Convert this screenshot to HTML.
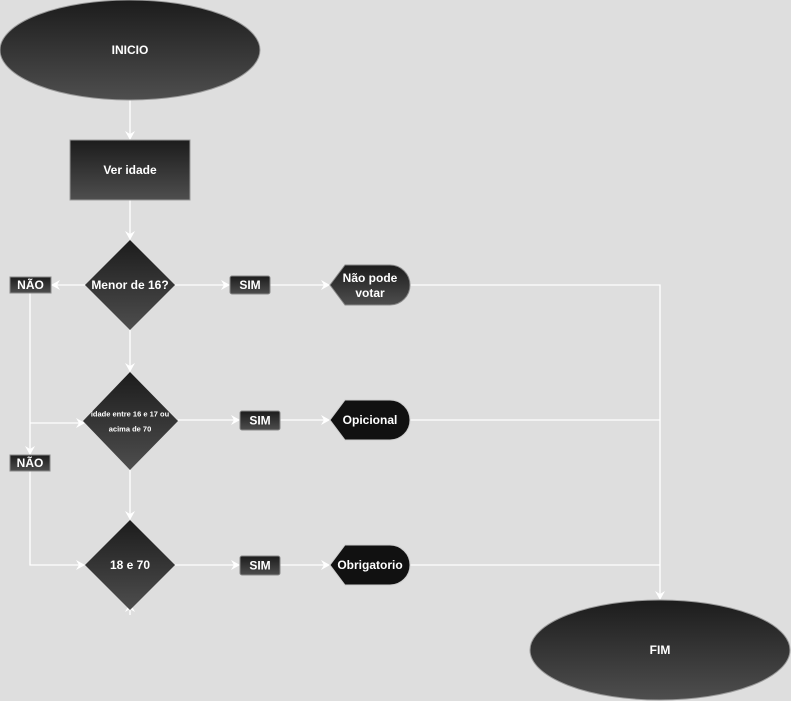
<!DOCTYPE html>
<html><head><meta charset="utf-8"><style>
html,body{margin:0;padding:0;background:#dedede;}
svg{display:block;}
text{font-family:"Liberation Sans",Arial,sans-serif;fill:#fff;font-weight:bold;text-anchor:middle;dominant-baseline:central;}
</style></head><body>
<svg width="791" height="701" viewBox="0 0 791 701" xmlns="http://www.w3.org/2000/svg">
<defs>
<linearGradient id="g" x1="0" y1="0" x2="0" y2="1"><stop offset="0" stop-color="#1c1c1c"/><stop offset="1" stop-color="#4e4e4e"/></linearGradient>
<marker id="a" markerWidth="10" markerHeight="10" refX="8" refY="5" orient="auto" markerUnits="userSpaceOnUse"><path d="M0,0 L9,5 L0,10 L3,5 Z" fill="#fff"/></marker>
</defs>
<rect width="791" height="701" fill="#dedede"/>
<g stroke="#fff" stroke-width="1.3" fill="none">
<line x1="130" y1="100" x2="130" y2="139" marker-end="url(#a)"/>
<line x1="130" y1="200" x2="130" y2="239" marker-end="url(#a)"/>
<line x1="85" y1="285" x2="52" y2="285" marker-end="url(#a)"/>
<line x1="175" y1="285" x2="229" y2="285" marker-end="url(#a)"/>
<line x1="270" y1="285" x2="329" y2="285" marker-end="url(#a)"/>
<line x1="130" y1="330" x2="130" y2="371" marker-end="url(#a)"/>
<line x1="30" y1="293" x2="30" y2="454" marker-end="url(#a)"/>
<line x1="30" y1="423" x2="84" y2="423" marker-end="url(#a)"/>
<line x1="178" y1="420" x2="239" y2="420" marker-end="url(#a)"/>
<line x1="280" y1="420" x2="329" y2="420" marker-end="url(#a)"/>
<line x1="130" y1="470" x2="130" y2="519" marker-end="url(#a)"/>
<polyline points="30,471 30,565 84,565" marker-end="url(#a)"/>
<line x1="175" y1="565" x2="239" y2="565" marker-end="url(#a)"/>
<line x1="280" y1="565" x2="329" y2="565" marker-end="url(#a)"/>
<line x1="130" y1="615" x2="130" y2="604" marker-end="url(#a)"/>
<polyline points="410,285 660,285 660,599" marker-end="url(#a)"/>
<line x1="410" y1="420" x2="660" y2="420"/>
<line x1="410" y1="565" x2="660" y2="565"/>
</g>
<ellipse cx="130" cy="50" rx="130" ry="50" fill="url(#g)" stroke="#999" stroke-width="1"/>
<text x="130" y="50" font-size="12">INICIO</text>
<rect x="70" y="140" width="120" height="60" fill="url(#g)" stroke="#999"/>
<text x="130" y="170" font-size="12">Ver idade</text>
<polygon points="130,240 175,285 130,330 85,285" fill="url(#g)"/>
<text x="130" y="285" font-size="12">Menor de 16?</text>
<polygon points="130,372 178,421 130,470 83,421" fill="url(#g)"/>
<text x="130" y="414" font-size="7.5">idade entre 16 e 17 ou</text>
<text x="130" y="429" font-size="7.5">acima de 70</text>
<polygon points="130,520 175,565 130,610 85,565" fill="url(#g)"/>
<text x="130" y="565" font-size="12">18 e 70</text>
<rect x="10" y="277" width="41" height="16" fill="url(#g)" stroke="#888"/>
<text x="30.5" y="285" font-size="12">NÃO</text>
<rect x="10" y="455" width="40" height="16" fill="url(#g)" stroke="#888"/>
<text x="30" y="463" font-size="12">NÃO</text>
<rect x="230" y="276" width="40" height="18" rx="2" fill="url(#g)" stroke="#888"/>
<text x="250" y="285" font-size="12">SIM</text>
<rect x="240" y="411" width="40" height="19" rx="2" fill="url(#g)" stroke="#888"/>
<text x="260" y="420.5" font-size="12">SIM</text>
<rect x="240" y="556" width="40" height="19" rx="2" fill="url(#g)" stroke="#888"/>
<text x="260" y="565.5" font-size="12">SIM</text>
<path d="M330,285 L345,265 L390,265 A20,20 0 0 1 390,305 L345,305 Z" fill="url(#g)" stroke="#888"/>
<text x="370" y="278" font-size="12">Não pode</text>
<text x="370" y="293" font-size="12">votar</text>
<path d="M330,420 L345,400 L390,400 A20,20 0 0 1 390,440 L345,440 Z" fill="#111" stroke="#ccc"/>
<text x="370" y="420" font-size="12" font-weight="normal">Opicional</text>
<path d="M330,565 L345,545 L390,545 A20,20 0 0 1 390,585 L345,585 Z" fill="#111" stroke="#ccc"/>
<text x="370" y="565" font-size="12" font-weight="normal">Obrigatorio</text>
<ellipse cx="660" cy="650" rx="130" ry="50" fill="url(#g)" stroke="#999"/>
<text x="660" y="650" font-size="12">FIM</text>
</svg>
</body></html>
